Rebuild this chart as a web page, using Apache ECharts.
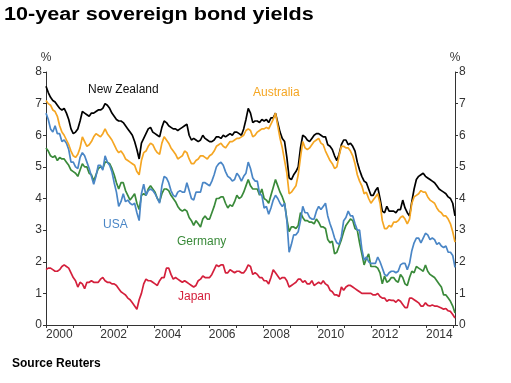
<!DOCTYPE html>
<html>
<head>
<meta charset="utf-8">
<script src="https://cdn.jsdelivr.net/npm/echarts@6/dist/echarts.min.js"></script>
<style>
html,body{margin:0;padding:0;background:#fff;}
#chart{width:511px;height:383px;}
</style>
</head>
<body>
<div id="chart"></div>
<script>
// Monthly readings, Jan 2000 .. Jan 2015 (181 points per series)
const startYear = 2000;
const endYear = 2015.07;
const yTicks = [0, 1, 2, 3, 4, 5, 6, 7, 8];
const seriesNames = ['New Zealand', 'Australia', 'USA', 'Germany', 'Japan'];

const newZealand = [
  7.55, 7.35, 7.2, 7.1, 7.05, 6.95, 6.85, 6.8, 6.85, 6.7, 6.5, 6.2,
  6.05, 6.1, 6.2, 6.45, 6.75, 6.7, 6.65, 6.6, 6.7, 6.7, 6.75, 6.8,
  6.8, 6.85, 7.0, 6.95, 6.85, 6.7, 6.6, 6.5, 6.45, 6.45, 6.4, 6.3,
  6.2, 6.1, 6.0, 5.8, 5.55, 5.25, 5.75, 5.9, 6.05, 6.2, 6.25, 6.1,
  6.05, 6.0, 5.95, 6.25, 6.45, 6.4, 6.3, 6.25, 6.2, 6.2, 6.15, 6.2,
  6.25, 6.3, 6.35, 6.0, 5.85, 5.9, 5.85, 5.8, 5.85, 6.0, 5.9, 5.85,
  5.8, 5.8, 5.85, 5.95, 5.95, 5.9, 6.0, 5.95, 6.0, 6.05, 6.0, 6.1,
  6.1, 6.05, 6.0, 6.2, 6.5, 6.85, 6.7, 6.4, 6.45, 6.45, 6.4, 6.5,
  6.45, 6.5, 6.4, 6.55, 6.55, 6.7, 6.4, 6.1, 5.9, 5.8, 5.3, 4.65,
  4.6, 4.75, 4.85, 5.0, 5.6, 6.0, 5.95, 5.85, 5.8, 5.9, 6.0, 6.05,
  6.05, 6.0, 5.95, 5.95, 5.7, 5.65, 5.55, 5.35, 5.2, 5.4, 5.7, 5.85,
  5.85, 5.7, 5.75, 5.65, 5.5, 5.15, 4.9, 4.7, 4.55, 4.5, 4.3, 4.1,
  4.1, 4.25, 4.35, 4.0, 3.6, 3.55, 3.75, 3.6, 3.6, 3.6, 3.55, 3.65,
  3.65, 3.95, 3.7, 3.55, 3.45, 3.9, 4.3, 4.6, 4.7, 4.75, 4.8, 4.7,
  4.65, 4.6, 4.55, 4.5, 4.4, 4.3, 4.25, 4.2, 4.15, 4.05, 4.0, 3.85,
  3.45
];

const australia = [
  7.1, 7.0, 6.95, 6.8, 6.75, 6.6, 6.3, 6.1, 6.0, 5.85, 5.7, 5.5,
  5.35, 5.3, 5.4, 5.6, 5.95, 5.8, 5.65, 5.7, 5.8, 5.95, 6.05, 6.0,
  5.95, 6.05, 6.2, 6.05, 5.95, 5.85, 5.7, 5.55, 5.45, 5.5, 5.4, 5.25,
  5.2, 5.15, 5.1, 5.05, 4.85, 4.75, 5.2, 5.45, 5.5, 5.65, 5.75, 5.7,
  5.55, 5.45, 5.4, 5.75, 5.95, 5.85, 5.75, 5.6, 5.5, 5.4, 5.25, 5.3,
  5.35, 5.5, 5.45, 5.25, 5.1, 5.1, 5.2, 5.25, 5.35, 5.35, 5.3, 5.25,
  5.35, 5.4, 5.5, 5.65, 5.7, 5.75, 5.65, 5.6, 5.7, 5.8, 5.8, 5.85,
  5.9, 5.9, 5.95, 6.0, 6.15, 6.2, 6.15, 5.95, 6.0, 6.1, 6.15, 6.2,
  6.2, 6.25, 6.2, 6.35, 6.5, 6.7, 6.3, 5.9, 5.6, 5.2, 4.8, 4.15,
  4.2, 4.3, 4.4, 4.75, 5.3, 5.8, 5.6, 5.55, 5.6, 5.7, 5.8, 5.85,
  5.9, 5.75, 5.7, 5.5, 5.35, 5.2, 5.1, 4.95, 5.0, 5.35, 5.65, 5.65,
  5.6, 5.6, 5.5, 5.35, 5.1, 4.75, 4.55, 4.4, 4.15, 4.2, 4.0, 3.85,
  3.95, 4.05, 4.15, 3.85, 3.3, 3.05, 3.05, 3.15, 3.1, 3.25, 3.25, 3.3,
  3.4, 3.45, 3.35, 3.2, 3.35, 3.85, 4.05, 4.1, 4.15, 4.25, 4.2, 4.2,
  4.05, 3.95, 3.9, 3.85, 3.7, 3.6, 3.55, 3.45, 3.45, 3.35, 3.2, 2.95,
  2.62
];

const usa = [
  6.7, 6.5, 6.2, 6.1, 6.3, 6.05, 6.05, 5.8, 5.85, 5.75, 5.55, 5.15,
  5.15, 5.0, 4.95, 5.3, 5.45, 5.35, 5.15, 4.95, 4.7, 4.45, 4.7, 5.05,
  5.05, 4.9, 5.35, 5.15, 5.05, 4.85, 4.5, 4.2, 3.75, 3.9, 4.15, 3.9,
  3.95, 3.85, 3.8, 3.85, 3.55, 3.3, 4.15, 4.45, 4.1, 4.25, 4.3, 4.25,
  4.15, 4.0, 3.85, 4.4, 4.7, 4.65, 4.5, 4.25, 4.1, 4.05, 4.2, 4.25,
  4.2, 4.2, 4.5, 4.25, 4.0, 3.95, 4.2, 4.2, 4.2, 4.5, 4.5, 4.45,
  4.4, 4.55, 4.75, 5.0, 5.1, 5.15, 5.05, 4.85, 4.7, 4.65, 4.55, 4.6,
  4.8, 4.7, 4.55, 4.7, 4.8, 5.15, 4.95, 4.65, 4.55, 4.55, 4.15, 4.1,
  3.7, 3.75, 3.5, 3.7, 3.95, 4.1, 4.0, 3.85, 3.75, 3.85, 3.3, 2.3,
  2.55, 2.85, 2.85, 2.95, 3.3, 3.75, 3.55, 3.55, 3.4, 3.35, 3.35, 3.6,
  3.75, 3.65, 3.75, 3.85, 3.45, 3.2, 3.0, 2.75, 2.6, 2.55, 2.8, 3.3,
  3.4, 3.6, 3.45, 3.45, 3.2, 3.0, 3.0, 2.4, 2.05, 2.15, 2.0, 1.95,
  1.95, 1.95, 2.15, 2.0, 1.8, 1.6, 1.55, 1.65, 1.7, 1.7, 1.65, 1.7,
  1.9, 1.95, 1.95, 1.75, 1.95, 2.35, 2.6, 2.75, 2.75, 2.6, 2.75, 2.9,
  2.85, 2.7, 2.75, 2.7, 2.55, 2.6, 2.5, 2.45, 2.5, 2.3, 2.3, 2.2,
  1.82
];

const germany = [
  5.6, 5.5, 5.35, 5.3, 5.35, 5.2, 5.3, 5.25, 5.25, 5.15, 5.05, 4.9,
  4.85, 4.8, 4.7, 4.9, 5.1, 5.0, 5.0, 4.8, 4.75, 4.55, 4.75, 4.95,
  5.0, 4.95, 5.15, 5.15, 5.1, 4.95, 4.75, 4.5, 4.3, 4.5, 4.5, 4.25,
  4.1, 3.95, 4.05, 4.15, 3.85, 3.65, 4.1, 4.15, 4.1, 4.3, 4.4, 4.3,
  4.2, 4.0, 3.9, 4.15, 4.3, 4.3, 4.25, 4.1, 4.0, 3.9, 3.75, 3.65,
  3.6, 3.65, 3.6, 3.4, 3.3, 3.15, 3.3, 3.2, 3.1, 3.35, 3.45, 3.35,
  3.35, 3.55, 3.75, 4.0, 4.0, 4.05, 4.05, 3.85, 3.7, 3.8, 3.75, 3.9,
  4.1, 4.0, 4.05, 4.2, 4.4, 4.6, 4.4, 4.3, 4.3, 4.3, 4.1, 4.3,
  4.0, 3.95, 3.85, 4.1, 4.35, 4.6, 4.4, 4.2, 4.05, 3.85, 3.35, 2.95,
  3.1, 3.1, 3.05, 3.15, 3.55, 3.4, 3.3, 3.3, 3.25, 3.25, 3.2, 3.35,
  3.25, 3.1, 3.1, 3.05, 2.7, 2.6, 2.65, 2.25, 2.3, 2.5, 2.7, 2.95,
  3.15, 3.25, 3.35, 3.3, 3.05, 3.0, 2.6, 2.25, 1.9, 2.1, 2.25, 1.85,
  1.85, 1.85, 1.8, 1.65, 1.3, 1.55, 1.35, 1.4, 1.5, 1.5, 1.4, 1.35,
  1.6, 1.5, 1.3, 1.25, 1.5, 1.7, 1.65, 1.85, 1.8, 1.75, 1.7, 1.9,
  1.7, 1.6, 1.55, 1.5, 1.4, 1.3, 1.2, 0.95, 0.95, 0.85, 0.75, 0.6,
  0.38
];

const japan = [
  1.75, 1.8, 1.8, 1.75, 1.7, 1.7, 1.75, 1.85, 1.9, 1.85, 1.8, 1.65,
  1.5, 1.4, 1.2, 1.35, 1.3, 1.15, 1.35, 1.35, 1.4, 1.35, 1.35, 1.35,
  1.45, 1.5, 1.4, 1.35, 1.35, 1.3, 1.3, 1.25, 1.15, 1.05, 1.0, 0.95,
  0.85, 0.8, 0.7, 0.6, 0.5, 0.8, 1.0, 1.3, 1.45, 1.4, 1.4, 1.35,
  1.3, 1.25, 1.4, 1.5, 1.5, 1.8, 1.8, 1.6, 1.45, 1.5, 1.45, 1.4,
  1.35, 1.4, 1.35, 1.3, 1.25, 1.2, 1.25, 1.4, 1.45, 1.55, 1.5, 1.5,
  1.5, 1.6, 1.75, 1.9, 1.85, 1.9, 1.9, 1.65, 1.65, 1.75, 1.7, 1.65,
  1.7, 1.7, 1.65, 1.65, 1.75, 1.9, 1.85, 1.6, 1.65, 1.6, 1.5, 1.5,
  1.4, 1.4, 1.3, 1.5, 1.75, 1.65, 1.55, 1.45, 1.5, 1.5, 1.4, 1.2,
  1.25, 1.3, 1.35, 1.45, 1.45, 1.35, 1.4, 1.3, 1.3, 1.4, 1.25, 1.3,
  1.35, 1.3, 1.4, 1.3, 1.25, 1.1, 1.05, 0.95, 0.95, 0.9, 1.2, 1.1,
  1.2, 1.25, 1.25, 1.2, 1.15, 1.1, 1.05, 1.0, 1.0, 1.0, 1.0, 1.0,
  0.95, 0.95, 1.0, 0.9, 0.85, 0.85, 0.75, 0.8, 0.78, 0.78, 0.72, 0.8,
  0.75, 0.65, 0.55, 0.55, 0.85, 0.85, 0.8, 0.75, 0.7, 0.6, 0.6, 0.7,
  0.62, 0.6, 0.63, 0.6, 0.6, 0.57, 0.54, 0.5, 0.52, 0.45, 0.43, 0.33,
  0.22
];

const colors = {
  'New Zealand': '#000000',
  'Australia': '#f5a623',
  'USA': '#4a86c6',
  'Germany': '#3a8a3a',
  'Japan': '#d4203c'
};
const valuesByName = {
  'New Zealand': newZealand,
  'Australia': australia,
  'USA': usa,
  'Germany': germany,
  'Japan': japan
};

const FONT = '"Liberation Sans", Arial, sans-serif';
const n = newZealand.length;
function toPoints(arr) {
  return arr.map((v, i) => [startYear + i * (endYear - startYear) / (n - 1), v]);
}

const drawOrder = ['Japan', 'Germany', 'USA', 'New Zealand', 'Australia'];
const series = drawOrder.map(name => ({
  name: name,
  type: 'line',
  showSymbol: false,
  symbol: 'none',
  animation: false,
  lineStyle: { width: 1.7, color: colors[name] },
  data: toPoints(valuesByName[name])
}));

const chart = echarts.init(document.getElementById('chart'), null, { renderer: 'canvas' });

const yAxisCommon = {
  type: 'value',
  min: 0, max: 8, interval: 1,
  name: '%',
  nameLocation: 'end',
  nameGap: 8,
  nameTextStyle: { color: '#333', fontSize: 12, fontFamily: FONT, align: 'center' },
  axisLine: { show: true, lineStyle: { color: '#333', width: 1 } },
  axisTick: { show: true, inside: false, length: 3, lineStyle: { color: '#333' } },
  axisLabel: { margin: 4, color: '#333', fontSize: 12, fontFamily: FONT },
  splitLine: { show: false }
};

chart.setOption({
  backgroundColor: '#ffffff',
  animation: false,
  grid: { left: 46, right: 56, top: 72, bottom: 58, containLabel: false },
  xAxis: {
    type: 'value',
    min: startYear, max: endYear, interval: 1,
    axisLine: { show: true, onZero: false, lineStyle: { color: '#333', width: 1 } },
    axisTick: { show: true, length: 3, lineStyle: { color: '#333' } },
    axisLabel: {
      margin: 4, color: '#333', fontSize: 12, fontFamily: FONT, align: 'left',
      showMaxLabel: false,
      formatter: function (v) { return (Math.round(v) === v && v % 2 === 0 && v < 2015) ? String(v) : ''; }
    },
    splitLine: { show: false }
  },
  yAxis: [
    Object.assign({}, yAxisCommon, { position: 'left' }),
    Object.assign({}, yAxisCommon, { position: 'right' })
  ],
  series: series,
  graphic: [
    { type: 'text', x: 4, y: 6, scaleX: 1.2, style: { text: '10-year sovereign bond yields', font: 'bold 18px ' + FONT, fill: '#000', verticalAlign: 'top' } },
    { type: 'text', x: 12, y: 358, style: { text: 'Source Reuters', font: 'bold 12px ' + FONT, fill: '#000', verticalAlign: 'top' } },
    { type: 'text', x: 88, y: 84, style: { text: 'New Zealand', font: '12px ' + FONT, fill: '#111', verticalAlign: 'top' } },
    { type: 'text', x: 253, y: 87, style: { text: 'Australia', font: '12px ' + FONT, fill: colors['Australia'], verticalAlign: 'top' } },
    { type: 'text', x: 103, y: 219, style: { text: 'USA', font: '12px ' + FONT, fill: colors['USA'], verticalAlign: 'top' } },
    { type: 'text', x: 177, y: 236, style: { text: 'Germany', font: '12px ' + FONT, fill: colors['Germany'], verticalAlign: 'top' } },
    { type: 'text', x: 178, y: 291, style: { text: 'Japan', font: '12px ' + FONT, fill: colors['Japan'], verticalAlign: 'top' } }
  ]
});
</script>
</body>
</html>
